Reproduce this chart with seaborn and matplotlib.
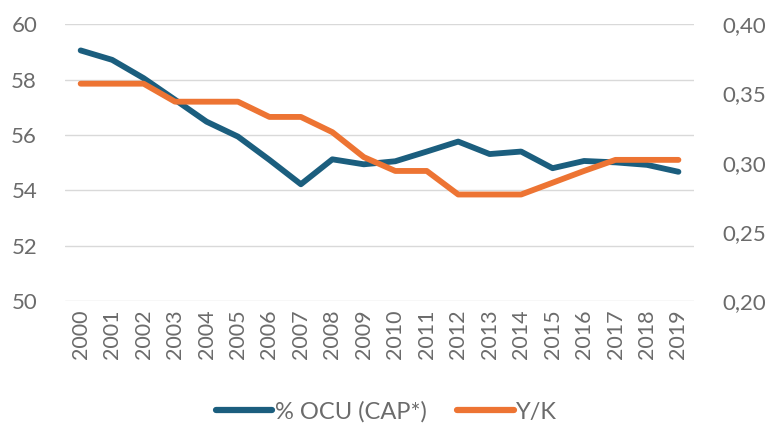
import matplotlib
matplotlib.use("Agg")
import matplotlib.pyplot as plt
import pandas as pd
import seaborn as sns
from matplotlib.lines import Line2D

years = [str(y) for y in range(2000, 2020)]
ocu_cap = [59.05, 58.71, 58.05, 57.27, 56.48, 55.94, 55.10, 54.22, 55.12, 54.94,
           55.05, 55.40, 55.76, 55.31, 55.40, 54.80, 55.06, 55.01, 54.92, 54.67]
y_k = [0.357, 0.357, 0.357, 0.344, 0.344, 0.344, 0.333, 0.333, 0.322, 0.304,
       0.294, 0.294, 0.277, 0.277, 0.277, 0.2855, 0.294, 0.302, 0.302, 0.302]
yk_ticks = [0.20, 0.25, 0.30, 0.35, 0.40]

blue = "#1b5e7e"
orange = "#ed7433"
txt = "#6b6b6b"

sns.set_style("white")
plt.rcParams['font.family'] = ['Lato', 'DejaVu Sans']

df = pd.DataFrame({"x": range(len(years)), "ocu": ocu_cap, "yk": y_k})

fig = plt.figure(figsize=(7.73, 4.23), dpi=100)
ax = fig.add_axes([0.084, 0.288, 0.814, 0.655])
ax2 = ax.twinx()

sns.lineplot(data=df, x="x", y="ocu", ax=ax, color=blue, lw=4.2, zorder=3)
sns.lineplot(data=df, x="x", y="yk", ax=ax2, color=orange, lw=4.2, zorder=3)

ax.set_xlim(-0.5, len(years) - 0.5)
ax.set_ylim(50, 60)
ax.set_yticks(range(50, 61, 2))
ax2.set_ylim(0.20, 0.40)
ax2.set_yticks(yk_ticks)
ax2.set_yticklabels([f"{v:.2f}".replace(".", ",") for v in yk_ticks])

ax.set_xticks(range(len(years)))
ax.set_xticklabels(years, rotation=90)
ax.grid(axis="y", color="#d9d9d9", lw=1)
ax.set_axisbelow(True)
ax.set_xlabel("")
ax.set_ylabel("")
ax2.set_ylabel("")

for a in (ax, ax2):
    for s in a.spines.values():
        s.set_visible(False)
    a.tick_params(length=0, colors=txt, labelsize=16)
ax.tick_params(axis="x", labelsize=15.5, pad=6)
ax.tick_params(axis="y", pad=20)
ax2.tick_params(axis="y", pad=20)

handles = [Line2D([], [], color=blue, lw=4.5, solid_capstyle="round"),
           Line2D([], [], color=orange, lw=4.5, solid_capstyle="round")]
fig.legend(handles, ["% OCU (CAP*)", "Y/K"], loc="center", ncol=2,
           bbox_to_anchor=(0.5, 0.026), frameon=False, fontsize=17, handlelength=2.4,
           handletextpad=0.1, columnspacing=1.3, labelcolor=txt)

fig.savefig("out.png", dpi=100)
